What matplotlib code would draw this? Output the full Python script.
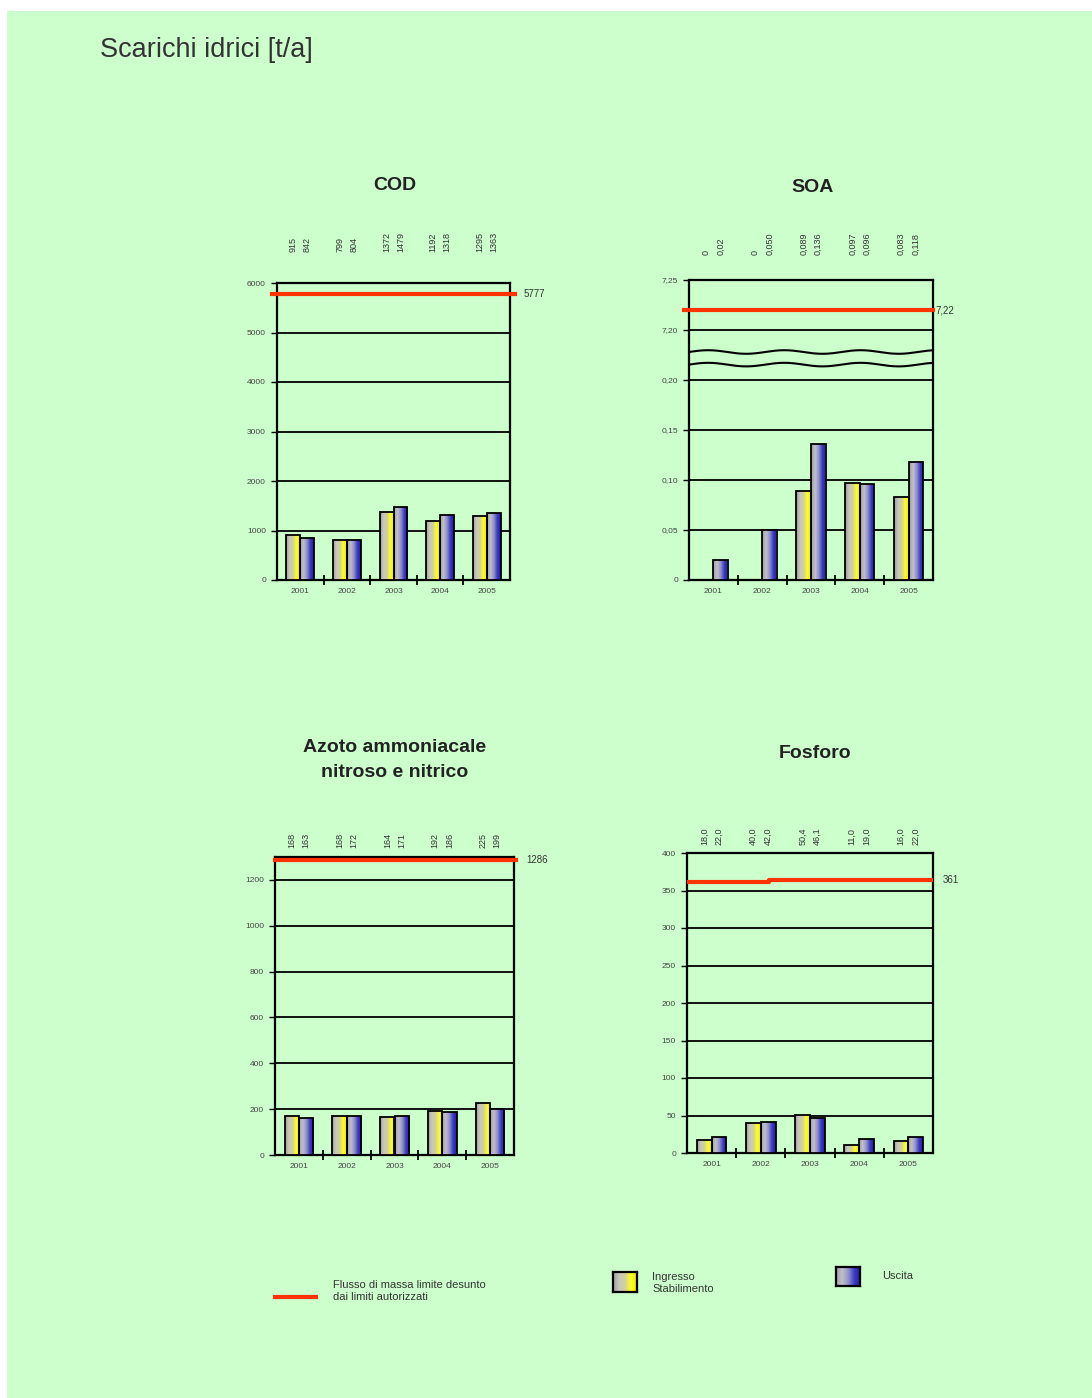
import numpy as np
import matplotlib
matplotlib.use('Agg')
from matplotlib import pyplot as plt
from matplotlib.colors import LinearSegmentedColormap
from matplotlib.lines import Line2D
from matplotlib.patches import Rectangle

plt.rcParams['font.family'] = ['Liberation Sans Narrow', 'Liberation Sans', 'DejaVu Sans']

years = ['2001', '2002', '2003', '2004', '2005']

cod_in = [915, 799, 1372, 1192, 1295]
cod_out = [842, 804, 1479, 1318, 1363]
cod_lim = 5777

soa_in = [0, 0, 0.089, 0.097, 0.083]
soa_out = [0.02, 0.050, 0.136, 0.096, 0.118]
soa_in_lbl = ['0', '0', '0,089', '0,097', '0,083']
soa_out_lbl = ['0,02', '0,050', '0,136', '0,096', '0,118']
soa_lim = 7.22

azo_in = [168, 168, 164, 192, 225]
azo_out = [163, 172, 171, 186, 199]
azo_lim = 1286

fos_in = [18.0, 40.0, 50.4, 11.0, 16.0]
fos_out = [22.0, 42.0, 46.1, 19.0, 22.0]
fos_lim_x = [-0.6, 1.17, 4.6]
fos_lim = [361, 364, 364]

BG = '#ccffcc'
RED = '#ff3300'
W, H = 1092, 1398

cm_in = LinearSegmentedColormap.from_list('gin', ['#a0a098', '#c8c8c0', '#d0d0a0', '#ffff20', '#e8e800'])
cm_out = LinearSegmentedColormap.from_list('gout', ['#a0a0a8', '#c0c0c8', '#9090c8', '#3838c8', '#2020a0'])
grad = np.linspace(0, 1, 64).reshape(1, -1)

fig = plt.figure(figsize=(W / 100, H / 100), dpi=100)
fig.patch.set_facecolor('white')
fig.add_artist(Rectangle((7 / W, 0), 1, 1 - 11 / H, transform=fig.transFigure,
                         facecolor=BG, edgecolor='none', zorder=-10))


def px_axes(l, t, r, b):
    return fig.add_axes([l / W, 1 - b / H, (r - l) / W, (b - t) / H])


def gradient_bars(ax, x, vals, cmap):
    bars = ax.bar(x, vals, width=0.3, facecolor='none', edgecolor='black', linewidth=1.3, zorder=4)
    for b in bars:
        if b.get_height() <= 0:
            continue
        im = ax.imshow(grad, cmap=cmap, aspect='auto', zorder=3,
                       extent=(b.get_x(), b.get_x() + b.get_width(), 0, b.get_height()))
        im.set_clip_path(b)
    return bars


def setup(ax, ymax, ticks, ticklabels, lim_label, lim_y, in_lbl, out_lbl, lbl_off):
    x = np.arange(len(years))
    ax.set_facecolor('none')
    ax.set_xlim(-0.5, 4.5)
    ax.set_ylim(0, ymax)
    ax.set_yticks(ticks)
    ax.set_yticklabels(ticklabels)
    ax.set_xticks(x)
    ax.set_xticklabels(years)
    ax.set_xticks(x[:-1] + 0.5, minor=True)
    ax.tick_params(axis='x', which='major', length=0, labelsize=6, colors='#444444', pad=6)
    ax.tick_params(axis='x', which='minor', length=7, width=1.3, direction='inout')
    ax.tick_params(axis='y', length=4, width=1.0, labelsize=6, pad=4)
    ax.tick_params(axis='y', colors='black', labelcolor='#444444')
    ax.yaxis.grid(True, color='black', linewidth=1.3)
    ax.set_axisbelow(True)
    for s in ax.spines.values():
        s.set_linewidth(1.6)
    ax.text(1.0, lim_y, lim_label, transform=ax.get_yaxis_transform(), fontsize=7,
            color='#333333', va='center', ha='left')
    for i in range(len(years)):
        for dx, s in ((-0.15, in_lbl[i]), (0.15, out_lbl[i])):
            ax.annotate(s, xy=(i + dx, 1.0), xycoords=('data', 'axes fraction'),
                        xytext=(0, lbl_off), textcoords='offset pixels',
                        rotation=90, ha='center', va='bottom', fontsize=6.5,
                        color='#333333', annotation_clip=False)


def draw_bars(ax, vin, vout, ymax):
    x = np.arange(len(years))
    gradient_bars(ax, x - 0.15, vin, cm_in)
    gradient_bars(ax, x + 0.15, vout, cm_out)
    ax.set_xlim(-0.5, 4.5)
    ax.set_ylim(0, ymax)


def fmt(v):
    return ('%.1f' % v).replace('.', ',')


# COD
ax1 = px_axes(277, 283, 510, 580)
draw_bars(ax1, cod_in, cod_out, 6000)
setup(ax1, 6000, range(0, 6001, 1000), [str(v) for v in range(0, 6001, 1000)],
      str(cod_lim), cod_lim, [str(v) for v in cod_in], [str(v) for v in cod_out], 31)
ax1.plot([-0.6, 4.6], [cod_lim, cod_lim], color=RED, lw=3, clip_on=False, zorder=6)
ax1.texts[0].set_position((1.06, cod_lim))


# SOA with broken axis
def fwd(y):
    y = np.asarray(y, dtype=float)
    return np.where(y <= 0.2, y / 0.05, np.where(y >= 7.2, 5 + (y - 7.2) / 0.05, 4 + (y - 0.2) / 7.0))


def inv(t):
    t = np.asarray(t, dtype=float)
    return np.where(t <= 4, t * 0.05, np.where(t >= 5, 7.2 + (t - 5) * 0.05, 0.2 + (t - 4) * 7.0))


ax2 = px_axes(689, 280, 933, 580)
ax2.set_yscale('function', functions=(fwd, inv))
draw_bars(ax2, soa_in, soa_out, 7.25)
setup(ax2, 7.25, [0, 0.05, 0.10, 0.15, 0.20, 7.20, 7.25],
      ['0', '0,05', '0,10', '0,15', '0,20', '7,20', '7,25'],
      '7,22', soa_lim, soa_in_lbl, soa_out_lbl, 25)
ax2.plot([-0.6, 4.5], [soa_lim, soa_lim], color=RED, lw=3, clip_on=False, zorder=6)
ax2.texts[0].set_position((1.01, soa_lim))
wx = np.linspace(0, 1, 200)
wob = 0.006 * np.sin(wx * 2 * np.pi * 3.2)
for y0 in (0.760, 0.718):
    ax2.plot(wx, y0 + wob, color='black', lw=1.5, transform=ax2.transAxes, zorder=5)

# Azoto
ax3 = px_axes(275, 857, 514, 1155)
draw_bars(ax3, azo_in, azo_out, 1300)
setup(ax3, 1300, range(0, 1201, 200), [str(v) for v in range(0, 1201, 200)],
      str(azo_lim), azo_lim, [str(v) for v in azo_in], [str(v) for v in azo_out], 9)
ax3.plot([-0.5, 4.55], [azo_lim, azo_lim], color=RED, lw=3, clip_on=False, zorder=6)
ax3.texts[0].set_position((1.05, azo_lim))

# Fosforo
ax4 = px_axes(687, 853, 933, 1153)
draw_bars(ax4, fos_in, fos_out, 400)
setup(ax4, 400, range(0, 401, 50), [str(v) for v in range(0, 401, 50)],
      '361', fos_lim[-1], [fmt(v) for v in fos_in], [fmt(v) for v in fos_out], 8)
ax4.step(fos_lim_x, fos_lim, where='post', color=RED, lw=3, zorder=6)
ax4.set_xlim(-0.5, 4.5)
ax4.texts[0].set_position((1.04, fos_lim[-1]))

# titles
fig.text(100 / W, 1 - 50 / H, 'Scarichi idrici [t/a]', fontsize=19.5, color='#333333', va='center', ha='left')
tkw = dict(fontsize=14, fontweight='bold', color='#222222', ha='center', va='center')
fig.text(395 / W, 1 - 185 / H, 'COD', **tkw)
fig.text(813 / W, 1 - 187 / H, 'SOA', **tkw)
fig.text(395 / W, 1 - 760 / H, 'Azoto ammoniacale\nnitroso e nitrico', linespacing=1.6, **tkw)
fig.text(815 / W, 1 - 753 / H, 'Fosforo', **tkw)

# legend
fig.add_artist(Line2D([275 / W, 316 / W], [1 - 1297 / H, 1 - 1297 / H], color=RED, lw=3,
                      transform=fig.transFigure))
lkw = dict(fontsize=8, color='#333333', va='center', ha='left', linespacing=1.3)
fig.text(333 / W, 1 - 1291 / H, 'Flusso di massa limite desunto\ndai limiti autorizzati', **lkw)
fig.text(652 / W, 1 - 1283 / H, 'Ingresso\nStabilimento', **lkw)
fig.text(882 / W, 1 - 1276 / H, 'Uscita', **lkw)
for (l, t, r, b), cm in (((613, 1272, 637, 1292), cm_in), ((836, 1267, 860, 1286), cm_out)):
    lax = px_axes(l, t, r, b)
    lax.imshow(grad, cmap=cm, aspect='auto')
    lax.set_xticks([])
    lax.set_yticks([])
    for s in lax.spines.values():
        s.set_linewidth(1.6)

fig.savefig('out.png', dpi=100, facecolor=fig.get_facecolor())
